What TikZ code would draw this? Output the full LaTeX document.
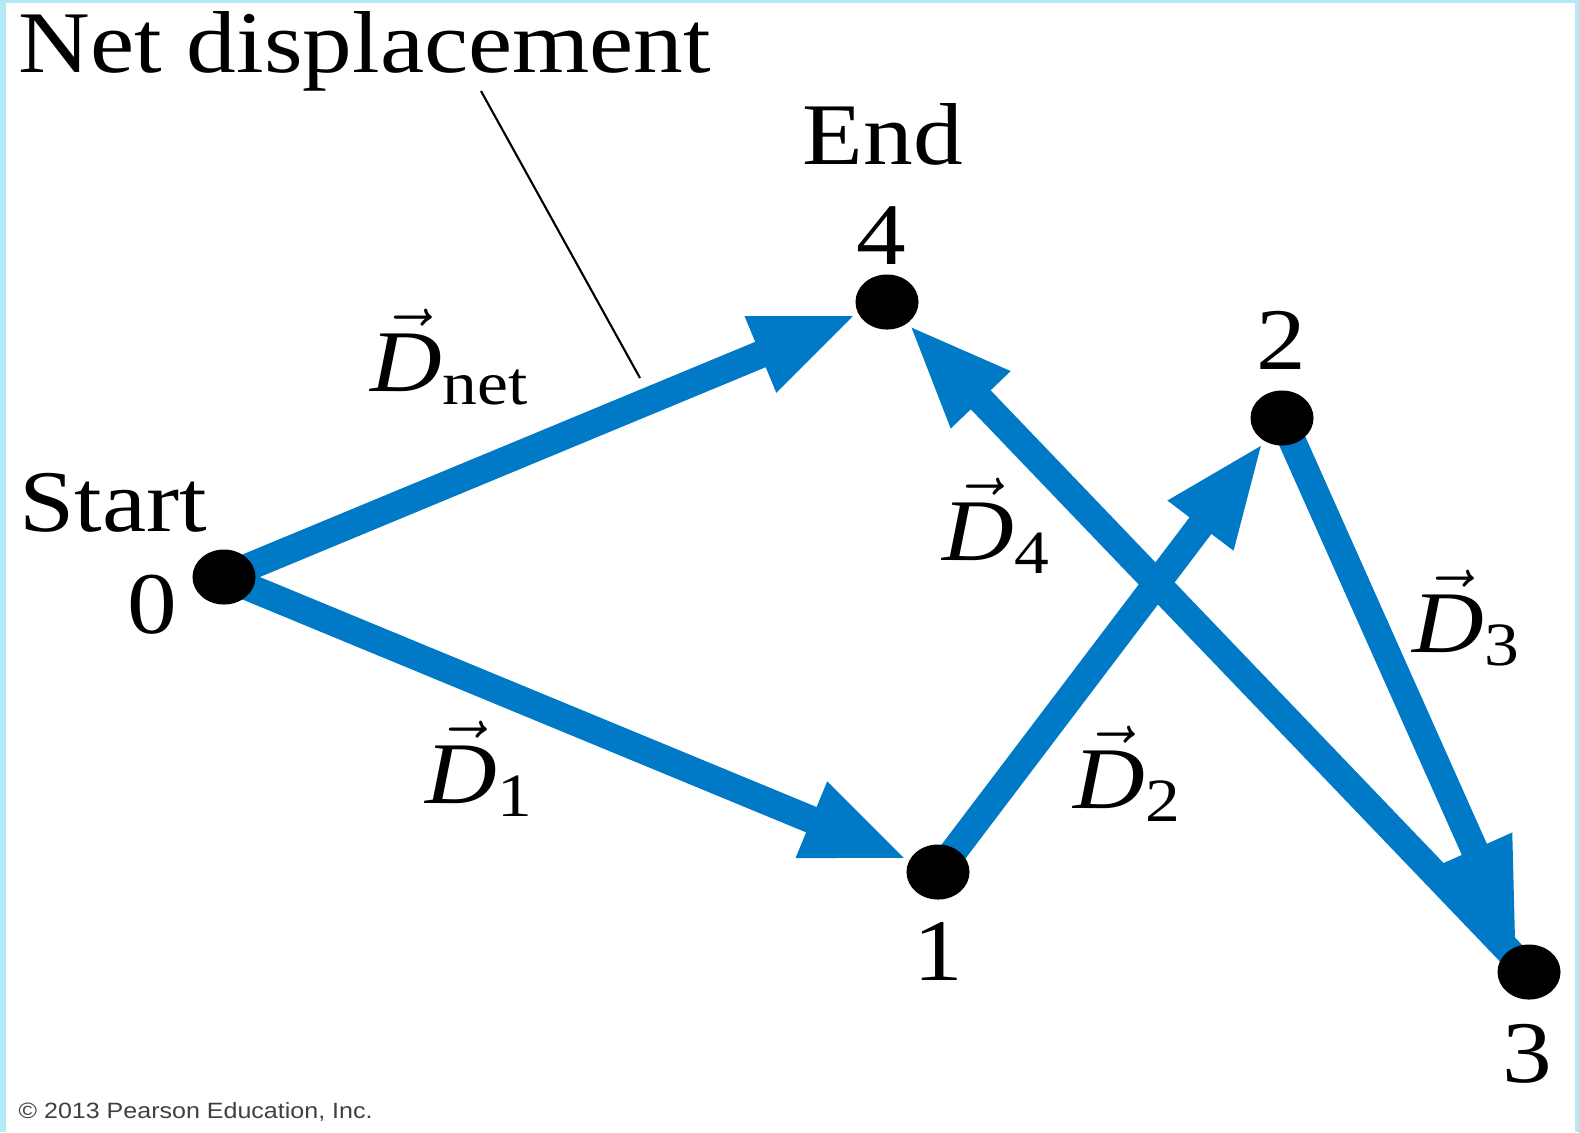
\documentclass[tikz,border=0pt]{standalone}
\usepackage{amsmath}
\usepackage{fontspec}
\setmainfont{Liberation Serif}[FakeStretch=1.13]
\setsansfont{Liberation Sans}[FakeStretch=1.13]
\definecolor{vecblue}{RGB}{0,122,199}
\definecolor{edgecyan}{RGB}{178,234,246}
\usetikzlibrary{arrows.meta,shapes.geometric,backgrounds}

\begin{document}
\begin{tikzpicture}[
      x=0.01cm, y=-0.01cm,
      vec/.style={-{Triangle[length=30pt,width=21pt]}, line width=7.8pt, vecblue},
      dot/.style={ellipse, fill=black, inner sep=0pt,
                  minimum width=0.63cm, minimum height=0.55cm},
      lbl/.style={inner sep=0pt, font=\fontsize{25}{28}\selectfont}
    ]
    \useasboundingbox (0,0) rectangle (1579,1132);

    \node[dot] (p0) at (224,577) {};
    \node[dot] (p1) at (938,872) {};
    \node[dot] (p2) at (1282,418) {};
    \node[dot] (p3) at (1529,972) {};
    \node[dot] (p4) at (887,302) {};

    \node[lbl, anchor=base west] (title) at (18,72) {Net displacement};
    \node[lbl] (start) at (113,503) {Start};
    \node[lbl] (n0) at (152,605) {0};
    \node[lbl] (end) at (883,134) {End};
    \node[lbl] (n4) at (881,236) {4};
    \node[lbl] (n2) at (1281,340) {2};
    \node[lbl] (n1) at (938,951) {1};
    \node[lbl] (n3) at (1527,1054) {3};

    \node[lbl] (dnet) at (450,357) {$\vec{\textit{D}}_{\text{net}}$};
    \node[lbl] (d1) at (480,769) {$\vec{\textit{D}}_{\text{1}}$};
    \node[lbl] (d2) at (1128,774) {$\vec{\textit{D}}_{\text{2}}$};
    \node[lbl] (d3) at (1467,618) {$\vec{\textit{D}}_{\text{3}}$};
    \node[lbl] (d4) at (997,526) {$\vec{\textit{D}}_{\text{4}}$};

    \node[inner sep=0pt, anchor=base west, font=\sffamily\fontsize{6.3}{7}\selectfont,
          text=black!75] (copy) at (18,1118) {\textcopyright{} 2013 Pearson Education, Inc.};

    \coordinate (lead0) at (481,91);
    \coordinate (lead1) at (640,378);
    \draw[line width=0.6pt] (lead0)--(lead1);

    \begin{scope}[on background layer]
      \fill[edgecyan] (0,0) rectangle (1579,1132);
      \fill[white] (6,3) rectangle (1575,1132);
      \draw[vec] (p0.center)--(p4);
      \draw[vec] (p0.center)--(p1);
      \draw[vec] (p1.center)--(p2);
      \draw[vec] (p2.center)--(p3);
      \draw[vec] (p3.center)--(p4);
    \end{scope}
  \end{tikzpicture}
\end{document}
